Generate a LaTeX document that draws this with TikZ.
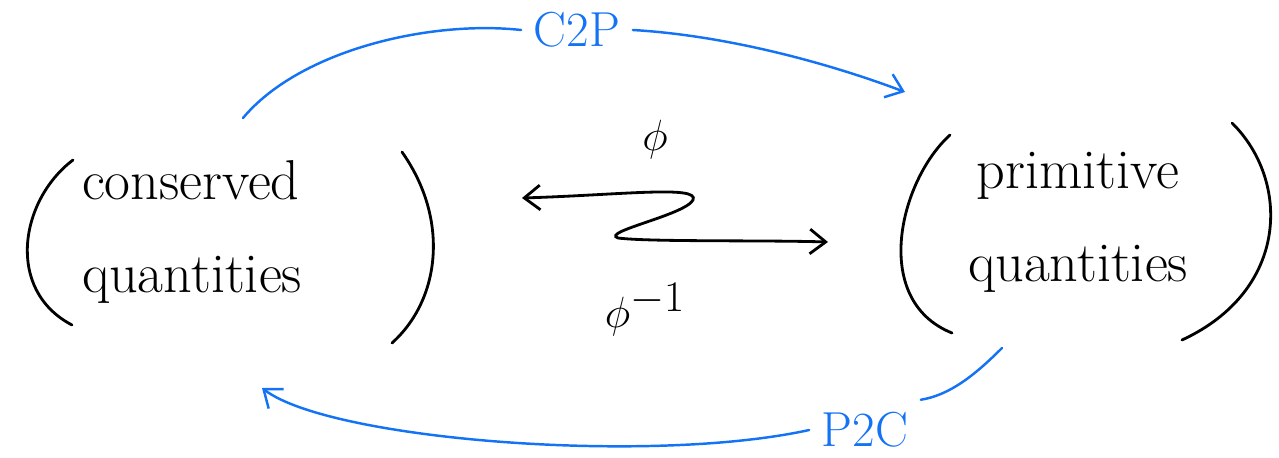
\documentclass[tikz,border=0pt]{standalone}
\usepackage{amsmath, amssymb}
\usetikzlibrary{arrows.meta}
\definecolor{penblue}{RGB}{20,115,245}

\begin{document}
\begin{tikzpicture}[x=0.02cm, y=-0.02cm, >={Straight Barb[length=9pt,width=14pt]},
    ink/.style={line width=1.6pt, line cap=round, black},
    blueink/.style={line width=1.4pt, line cap=round, penblue},
    words/.style={inner sep=0pt, font=\fontsize{32}{53}\selectfont},
    greek/.style={inner sep=0pt, font=\fontsize{40}{48}\selectfont},
    tag/.style={inner sep=7pt, text=penblue, font=\fontsize{28}{32}\selectfont}]
    \useasboundingbox (0,0) rectangle (1279,457);

    % the two groups of quantities
    \node[words, align=left] (cons) at (192,232) {conserved\\quantities};
    \node[words, align=center] (prim) at (1078,222) {primitive\\quantities};
    \draw[ink] (73,160) .. controls (20,200) and (5,290) .. (72,325);
    \draw[ink] (402,152) .. controls (450,220) and (440,300) .. (392,343);
    \draw[ink] (950,135) .. controls (900,180) and (870,300) .. (952,333);
    \draw[ink] (1232,123) .. controls (1290,180) and (1290,290) .. (1182,340);

    % phi and its inverse
    \node[greek] (phi) at (655,140) {$\phi$};
    \node[greek] (phiinv) at (645,310) {$\phi^{-1}$};
    \coordinate (zleft) at (522,198);
    \coordinate (zright) at (828,242);
    \draw[ink, <->] (zleft) .. controls (620,195) and (700,185) .. (693,200)
        .. controls (685,215) and (600,232) .. (618,238)
        .. controls (650,242) and (760,240) .. (zright);

    % C2P on top, P2C below
    \node[tag] (c2p) at (577,30) {C2P};
    \coordinate (c2pstart) at (243,118);
    \coordinate (c2pend) at (905,92);
    \draw[blueink] (c2pstart) .. controls (300,50) and (430,20) .. (c2p.west);
    \draw[blueink, ->] (c2p.east) .. controls (720,35) and (820,60) .. (c2pend);

    \node[tag] (p2c) at (865,430) {P2C};
    \coordinate (p2cstart) at (1002,348);
    \coordinate (p2cend) at (262,388);
    \draw[blueink] (p2cstart) .. controls (975,375) and (950,395) .. (p2c.north east);
    \draw[blueink, ->] (p2c.west) .. controls (650,465) and (330,440) .. (p2cend);
\end{tikzpicture}
\end{document}
